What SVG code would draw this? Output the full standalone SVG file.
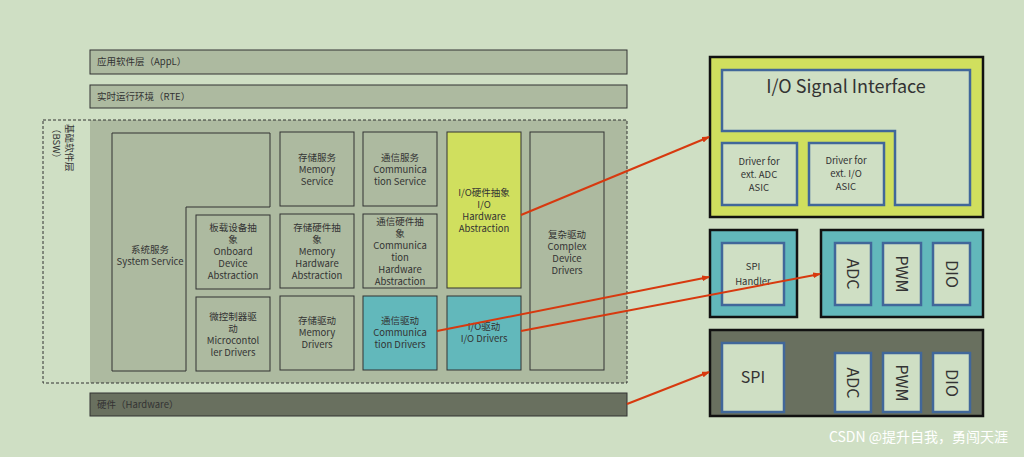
<svg xmlns="http://www.w3.org/2000/svg" width="1024" height="457" viewBox="0 0 1024 457">
<defs>
<marker id="ah" markerWidth="8" markerHeight="6" refX="7" refY="3" orient="auto" markerUnits="userSpaceOnUse"><path d="M0,0L8,3L0,6z" fill="#d7390f"/></marker>
<style>
text{font-family:"Noto Sans CJK SC","Noto Sans",sans-serif;fill:#333;font-size:9.5px;text-anchor:middle}
.g{fill:#adbaa0;stroke:#333;stroke-width:1}
.b{fill:#cfdfc4;stroke:#41679a;stroke-width:2.5}
.c{stroke:#d7390f;stroke-width:2;fill:none;marker-end:url(#ah)}
</style>
</defs>
<rect width="1024" height="457" fill="#cfdfc4"/>
<g id="appl"><rect class="g" x="90" y="50" width="537" height="24"/><text x="97" y="65" style="text-anchor:start">应用软件层（AppL）</text></g>
<g id="rte"><rect class="g" x="90" y="85" width="537" height="23"/><text x="97" y="100" style="text-anchor:start">实时运行环境（RTE）</text></g>
<g id="bsw">
<rect x="90" y="120" width="537" height="263" fill="#adbaa0"/>
<rect x="43" y="120" width="584" height="263" fill="none" stroke="#333" stroke-dasharray="3,2"/>
<text transform="translate(66,124) rotate(90)" style="text-anchor:start">基础软件层</text>
<text transform="translate(53,124) rotate(90)" style="text-anchor:start">（BSW）</text>
</g>
<g id="sys"><path class="g" d="M112,133H270V207H186V371H112Z"/><text x="150" y="253">系统服务</text><text x="150" y="265">System Service</text></g>
<g id="onboard"><rect class="g" x="196" y="215" width="74" height="74"/><text x="233" y="231">板载设备抽</text><text x="233" y="243">象</text><text x="233" y="255">Onboard</text><text x="233" y="267">Device</text><text x="233" y="279">Abstraction</text></g>
<g id="mcu"><rect class="g" x="196" y="297" width="74" height="74"/><text x="233" y="320">微控制器驱</text><text x="233" y="332">动</text><text x="233" y="344">Microcontol</text><text x="233" y="356">ler Drivers</text></g>
<g id="memsrv"><rect class="g" x="280" y="132" width="74" height="74"/><text x="317" y="161">存储服务</text><text x="317" y="173">Memory</text><text x="317" y="185">Service</text></g>
<g id="memhw"><rect class="g" x="280" y="214" width="74" height="74"/><text x="317" y="231">存储硬件抽</text><text x="317" y="243">象</text><text x="317" y="255">Memory</text><text x="317" y="267">Hardware</text><text x="317" y="279">Abstraction</text></g>
<g id="memdrv"><rect class="g" x="280" y="296" width="74" height="74"/><text x="317" y="324">存储驱动</text><text x="317" y="336">Memory</text><text x="317" y="348">Drivers</text></g>
<g id="comsrv"><rect class="g" x="363" y="132" width="74" height="74"/><text x="400" y="161">通信服务</text><text x="400" y="173">Communica</text><text x="400" y="185">tion Service</text></g>
<g id="comhw"><rect class="g" x="363" y="214" width="74" height="74"/><text x="400" y="225">通信硬件抽</text><text x="400" y="237">象</text><text x="400" y="249">Communica</text><text x="400" y="261">tion</text><text x="400" y="273">Hardware</text><text x="400" y="285">Abstraction</text></g>
<g id="comdrv"><rect x="363" y="296" width="74" height="74" fill="#62b8bb" stroke="#333"/><text x="400" y="324">通信驱动</text><text x="400" y="336">Communica</text><text x="400" y="348">tion Drivers</text></g>
<g id="iohw"><rect x="447" y="132" width="74" height="156" fill="#d0df5e" stroke="#333"/><text x="484" y="196">I/O硬件抽象</text><text x="484" y="208">I/O</text><text x="484" y="220">Hardware</text><text x="484" y="232">Abstraction</text></g>
<g id="iodrv"><rect x="447" y="296" width="74" height="74" fill="#62b8bb" stroke="#333"/><text x="484" y="330">I/O驱动</text><text x="484" y="342">I/O Drivers</text></g>
<g id="cdd"><rect class="g" x="530" y="132" width="74" height="238"/><text x="567" y="238">复杂驱动</text><text x="567" y="250">Complex</text><text x="567" y="262">Device</text><text x="567" y="274">Drivers</text></g>
<g id="hw"><rect x="90" y="393" width="537" height="23" fill="#69705f" stroke="#333"/><text x="97" y="408" style="text-anchor:start">硬件（Hardware）</text></g>
<g id="ioif">
<rect x="710" y="57" width="273" height="160" fill="#d0df5e" stroke="#111" stroke-width="2.5"/>
<path class="b" d="M722,70H970V205H895V131H722Z"/>
<text x="846" y="93" style="font-size:18px">I/O Signal Interface</text>
<rect class="b" x="722" y="143" width="75" height="62"/><text x="759" y="165">Driver for</text><text x="759" y="178">ext. ADC</text><text x="759" y="191">ASIC</text>
<rect class="b" x="809" y="143" width="75" height="62"/><text x="846" y="164">Driver for</text><text x="846" y="177">ext. I/O</text><text x="846" y="190">ASIC</text>
</g>
<g id="spih">
<rect x="710" y="230" width="87" height="87" fill="#62b8bb" stroke="#111" stroke-width="2.5"/>
<rect class="b" x="722" y="243" width="62" height="62"/><text x="753" y="270">SPI</text><text x="753" y="285">Handler</text>
</g>
<g id="iodrvs">
<rect x="821" y="230" width="162" height="87" fill="#62b8bb" stroke="#111" stroke-width="2.5"/>
<rect class="b" x="835" y="243" width="36" height="62"/><text transform="translate(847,274) rotate(90)" style="font-size:16px">ADC</text>
<rect class="b" x="883" y="243" width="38" height="62"/><text transform="translate(896,274) rotate(90)" style="font-size:16px">PWM</text>
<rect class="b" x="933" y="243" width="37" height="62"/><text transform="translate(946,274) rotate(90)" style="font-size:16px">DIO</text>
</g>
<g id="hwr">
<rect x="710" y="330" width="273" height="86" fill="#69705f" stroke="#111" stroke-width="2.5"/>
<rect class="b" x="722" y="343" width="62" height="69"/><text x="753" y="383" style="font-size:16px">SPI</text>
<rect class="b" x="835" y="353" width="36" height="59"/><text transform="translate(847,383) rotate(90)" style="font-size:16px">ADC</text>
<rect class="b" x="883" y="353" width="38" height="59"/><text transform="translate(896,383) rotate(90)" style="font-size:16px">PWM</text>
<rect class="b" x="933" y="353" width="37" height="59"/><text transform="translate(946,383) rotate(90)" style="font-size:16px">DIO</text>
</g>
<g id="connectors">
<line class="c" x1="521" y1="215" x2="709" y2="137"/>
<line class="c" x1="437" y1="331" x2="709" y2="277"/>
<line class="c" x1="521" y1="331" x2="820" y2="274"/>
<line class="c" x1="627" y1="404" x2="709" y2="372"/>
</g>
<text x="1008" y="442" style="font-size:14px;fill:#fff;text-anchor:end;font-family:'Noto Sans CJK SC',sans-serif">CSDN @提升自我，勇闯天涯</text>
</svg>
